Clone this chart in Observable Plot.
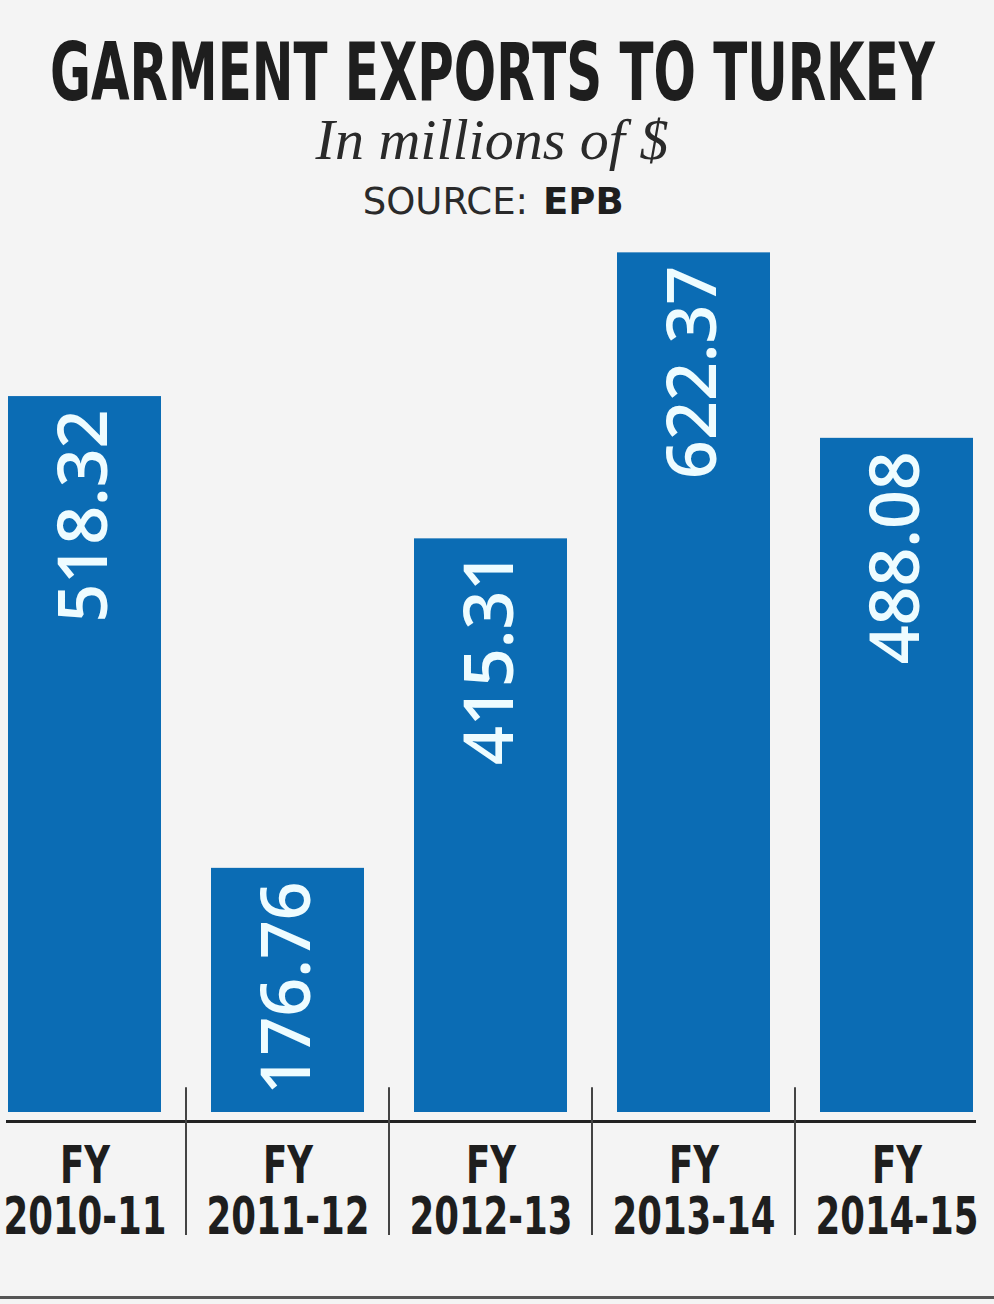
<!DOCTYPE html>
<html>
<head>
<meta charset="utf-8">
<script src="https://cdn.jsdelivr.net/npm/d3@7"></script>
<script src="https://cdn.jsdelivr.net/npm/@observablehq/plot@0.6"></script>
<style>
  html, body { margin: 0; padding: 0; background: #f4f4f4; }
  body { width: 994px; height: 1304px; position: relative; overflow: hidden; }
  #header { display: block; }
  #chart svg { display: block; background: transparent; }
  #bottomline { position: absolute; left: 0; top: 1296px; width: 994px; height: 3px; background: #555; }
</style>
</head>
<body>
<svg id="header" width="994" height="226" xmlns="http://www.w3.org/2000/svg">
  <text id="title" transform="translate(492.5,100)" text-anchor="middle"
        font-family="'DejaVu Sans Condensed',sans-serif" font-weight="bold"
        font-size="80" fill="#1e1e1e">GARMENT EXPORTS TO TURKEY</text>
  <text x="492" y="159" text-anchor="middle" font-family="'Liberation Serif','DejaVu Serif',serif"
        font-style="italic" font-size="58" fill="#2a2a2a">In millions of $</text>
  <text x="528" y="214" text-anchor="end" font-family="'DejaVu Sans',sans-serif" font-size="37" fill="#2a2a2a">SOURCE:</text>
  <text x="543" y="214" text-anchor="start" font-family="'DejaVu Sans',sans-serif" font-size="37" font-weight="bold" fill="#1e1e1e">EPB</text>
</svg>
<div id="chart"></div>
<div id="bottomline"></div>
<script>
const categories = ["FY 2010-11", "FY 2011-12", "FY 2012-13", "FY 2013-14", "FY 2014-15"];
const values = [518.32, 176.76, 415.31, 622.37, 488.08];
const valueLabels = ["518.32", "176.76", "415.31", "622.37", "488.08"];

const data = categories.map((c, i) => ({category: c, value: values[i], label: valueLabels[i]}));

// condense the title horizontally to the reference's width
const title = document.getElementById("title");
const tLen = title.getComputedTextLength();
title.setAttribute("transform", `translate(492.5,100) scale(${885 / tLen},1)`);

const chart = Plot.plot({
  width: 994,
  height: 1078,
  marginLeft: 6,
  marginRight: 18,
  marginTop: 2,
  marginBottom: 192,
  style: {background: "transparent"},
  x: {domain: categories, paddingInner: 0.245, paddingOuter: 0},
  y: {domain: [0, 640], axis: null},
  marks: [
    Plot.barY(data, {x: "category", y: "value", fill: "#0b6cb4"}),
    Plot.ruleY([0], {stroke: "#222", strokeWidth: 3, dy: 9}),
    Plot.ruleX(categories.slice(0, -1), {x: d => d, y1: 18, y2: -89, dx: 101, stroke: "#444", strokeWidth: 2}),
    Plot.text(data, {
      x: "category", y: "value", text: "label", rotate: -90, textAnchor: "end", dy: 13,
      fill: "#eefcff", fontSize: 68, fontWeight: 600, fontFamily: "'Open Sans', sans-serif"
    }),
    Plot.axisX({
      tickSize: 0, tickPadding: 34, label: null,
      tickFormat: d => d.replace(" ", "\n"),
      fontSize: 52, fontWeight: "bold", lineHeight: 0.98,
      fontFamily: "'DejaVu Sans Condensed',sans-serif",
      fill: "#1e1e1e"
    })
  ]
});
document.getElementById("chart").appendChild(chart);

// condense the axis labels horizontally, like the reference's condensed face
const condense = 0.76;
chart.querySelectorAll('[aria-label="x-axis tick label"] text').forEach(t => {
  const tr = t.getAttribute("transform") || "";
  t.setAttribute("transform", `${tr} scale(${condense},1)`);
});
</script>
</body>
</html>
